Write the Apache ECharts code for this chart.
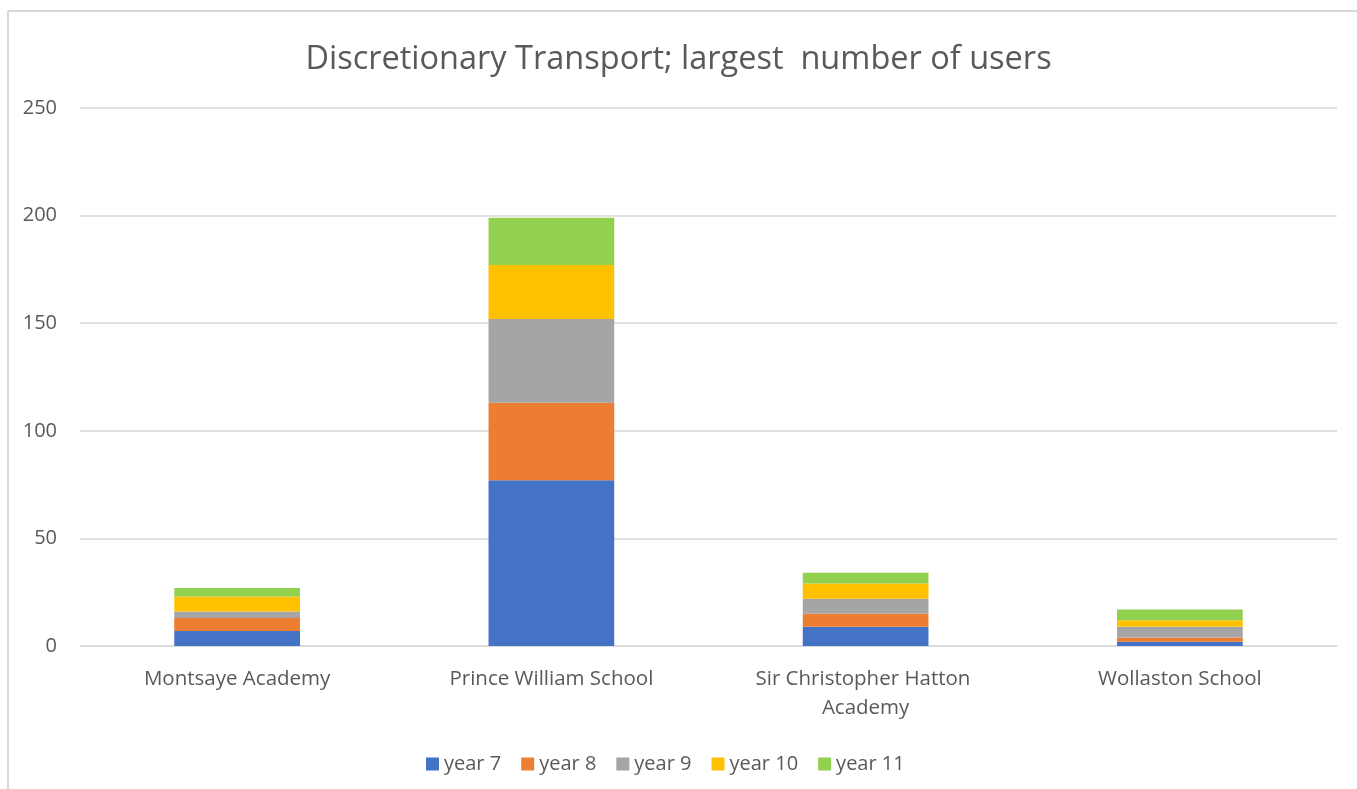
<!DOCTYPE html>
<html><head><meta charset="utf-8">
<script src="https://cdn.jsdelivr.net/npm/echarts@6/dist/echarts.min.js"></script>
<style>html,body{margin:0;padding:0;background:#fff}#c{width:1357px;height:789px}</style>
</head><body><div id="c"></div>
<script>
const categories = ["Montsaye Academy", "Prince William School", "Sir Christopher Hatton Academy", "Wollaston School"];
const seriesNames = ["year 7", "year 8", "year 9", "year 10", "year 11"];
const year7 = [7, 77, 9, 2];
const year8 = [6, 36, 6, 2];
const year9 = [3, 39, 7, 5];
const year10 = [7, 25, 7, 3];
const year11 = [4, 22, 5, 5];
const colors = ["#4472C4", "#ED7D31", "#A5A5A5", "#FFC000", "#92D050"];
const values = [year7, year8, year9, year10, year11];
const font = "'Open Sans', 'Noto Sans', sans-serif";
const chart = echarts.init(document.getElementById('c'));
chart.setOption({
  animation: false,
  title: {text: "Discretionary Transport; largest  number of users", left: 'center', top: 38,
    textStyle: {fontFamily: font, fontSize: 32.5, fontWeight: 'normal', color: '#595959'}},
  grid: {left: 80, right: 20, top: 108, bottom: 143},
  legend: {bottom: 10, left: 421, itemWidth: 13, itemHeight: 13, itemGap: 20, icon: 'rect',
    textStyle: {fontFamily: font, fontSize: 20, color: '#595959'}},
  xAxis: {type: 'category', data: categories,
    axisLine: {lineStyle: {color: '#D9D9D9', width: 1.5}}, axisTick: {show: false},
    axisLabel: {interval: 0, fontFamily: font, fontSize: 20.5, color: '#595959', margin: 19, width: 270, overflow: 'break', lineHeight: 29}},
  yAxis: {type: 'value', min: 0, max: 250, interval: 50,
    axisLine: {show: false}, axisTick: {show: false},
    splitLine: {lineStyle: {color: '#D9D9D9', width: 1.5}},
    axisLabel: {fontFamily: font, fontSize: 20, color: '#595959', margin: 23}},
  graphic: [
    {type: 'line', shape: {x1: 8, y1: 11, x2: 1357, y2: 11}, style: {stroke: '#D9D9D9', lineWidth: 2}},
    {type: 'line', shape: {x1: 8, y1: 11, x2: 8, y2: 789}, style: {stroke: '#D9D9D9', lineWidth: 2}}
  ],
  series: seriesNames.map((n, i) => ({
    name: n, type: 'bar', stack: 'total', data: values[i], barWidth: '40%',
    itemStyle: {color: colors[i]}
  }))
});
</script></body></html>
